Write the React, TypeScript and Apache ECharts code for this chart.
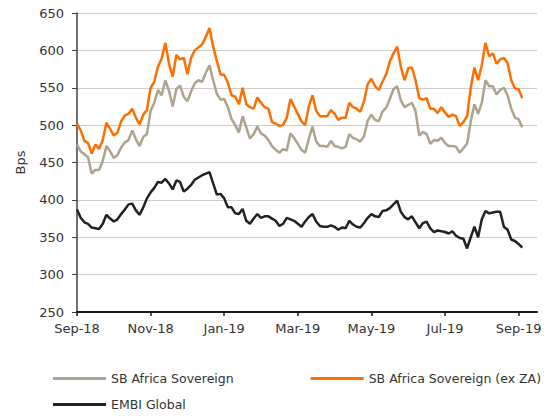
import React, { useEffect, useRef } from "react";
import * as echarts from "echarts";

const tickLabels = ["Sep-18", "Nov-18", "Jan-19", "Mar-19", "May-19", "Jul-19", "Sep-19"];
const POINTS_PER_TICK = 20;
const TOTAL_SLOTS = 126;

const sbAfrica = [
  474, 465, 461, 457, 435, 440, 440, 452, 472, 465, 456, 460, 470, 477, 480, 493, 481, 472, 484, 488,
  519, 530, 547, 540, 560, 546, 525, 548, 553, 538, 532, 545, 556, 560, 558, 570, 580, 560, 542, 534,
  535, 524, 508, 500, 490, 512, 497, 482, 488, 498, 489, 486, 480, 472, 467, 463, 468, 466, 489, 483,
  475, 467, 463, 482, 498, 478, 472, 472, 471, 479, 472, 471, 469, 471, 488, 483, 481, 478, 485, 506,
  514, 507, 505, 518, 523, 535, 548, 552, 533, 524, 527, 530, 519, 486, 491, 488, 475, 480, 479, 483,
  476, 472, 472, 471, 463, 469, 475, 505, 528, 515, 530, 560, 552, 552, 541, 547, 550, 540, 522, 510,
  508, 497,
];

const sbAfricaExZA = [
  502, 493, 479, 476, 462, 474, 468, 480, 503, 495, 486, 490, 505, 513, 515, 522, 510, 501, 514, 520,
  550, 558, 578, 589, 610, 582, 565, 594, 588, 590, 568, 590, 600, 604, 608, 618, 630, 605, 586, 568,
  567, 557, 540, 538, 528, 550, 528, 524, 522, 537, 530, 524, 522, 504, 502, 499, 500, 510, 535, 525,
  515, 505, 500, 525, 540, 519, 512, 512, 512, 520, 515, 507, 510, 510, 530, 524, 522, 518, 532, 555,
  562, 552, 547, 558, 568, 585, 596, 605, 578, 560, 576, 577, 560, 536, 534, 536, 522, 522, 516, 524,
  517, 511, 514, 512, 499, 504, 512, 550, 577, 560, 580, 610, 592, 596, 582, 588, 590, 583, 560, 549,
  548, 536,
];

const embiGlobal = [
  387, 376, 370, 368, 363, 362, 361, 368, 380, 375, 371, 374, 381, 387, 394, 395, 386, 380, 390, 402,
  410, 416, 424, 423, 428, 422, 414, 426, 424, 411, 415, 420, 427, 430, 433, 435, 437, 422, 407, 408,
  402, 390, 390, 382, 381, 388, 372, 368, 375, 381, 376, 378, 378, 375, 372, 365, 368, 376, 374, 372,
  368, 364, 371, 377, 381, 371, 365, 364, 364, 366, 364, 360, 363, 362, 372, 367, 364, 363, 369, 376,
  381, 378, 377, 385, 386, 389, 394, 399, 384, 377, 374, 378, 370, 362, 369, 371, 362, 357, 359, 358,
  357, 355, 358, 352, 349, 348, 335, 350, 364, 350, 374, 385, 382, 383, 384, 384, 364, 360, 347, 345,
  341, 336,
];

const seriesNames = ["SB Africa Sovereign", "SB Africa Sovereign (ex ZA)", "EMBI Global"];
const seriesColors = ["#ADA38E", "#FF6E00", "#222222"];

const FONT = "DejaVu Sans";

export default function App() {
  const ref = useRef<HTMLDivElement>(null);

  useEffect(() => {
    if (!ref.current) return;
    const chart = echarts.init(ref.current, undefined, { renderer: "svg" });
    const categories = Array.from({ length: TOTAL_SLOTS }, (_, i) => `p${i}`);
    const isTick = (index: number) => index % POINTS_PER_TICK === 0;
    const values = [sbAfrica, sbAfricaExZA, embiGlobal];

    chart.setOption({
      animation: false,
      backgroundColor: "#ffffff",
      textStyle: { fontFamily: FONT },
      grid: { left: 77, right: 14, top: 13, bottom: 107, containLabel: false },
      legend: [
        {
          data: [seriesNames[0], seriesNames[1]],
          left: 53,
          top: 372,
          padding: 0,
          icon: "rect",
          itemWidth: 53,
          itemHeight: 3,
          itemGap: 77,
          textStyle: { fontFamily: FONT, fontSize: 12.5, color: "#333333" },
        },
        {
          data: [seriesNames[2]],
          left: 53,
          top: 398,
          padding: 0,
          icon: "rect",
          itemWidth: 53,
          itemHeight: 3,
          textStyle: { fontFamily: FONT, fontSize: 12.5, color: "#333333" },
        },
      ],
      xAxis: {
        type: "category",
        data: categories,
        boundaryGap: false,
        axisLine: { show: true, lineStyle: { color: "#1a1a1a", width: 2 } },
        axisTick: {
          show: true,
          interval: (index: number) => isTick(index),
          length: 4,
          lineStyle: { color: "#1a1a1a", width: 1.5 },
        },
        axisLabel: {
          interval: (index: number) => isTick(index),
          formatter: (_v: string, index: number) =>
            isTick(index) ? tickLabels[index / POINTS_PER_TICK] ?? "" : "",
          margin: 10,
          fontFamily: FONT,
          fontSize: 13,
          color: "#333333",
        },
        splitLine: { show: false },
      },
      yAxis: {
        type: "value",
        min: 250,
        max: 650,
        interval: 50,
        name: "Bps",
        nameLocation: "middle",
        nameGap: 50,
        nameTextStyle: { fontFamily: FONT, fontSize: 13, color: "#333333" },
        axisLine: { show: true, lineStyle: { color: "#404040", width: 1.5 } },
        axisTick: { show: true, length: 5, lineStyle: { color: "#404040", width: 1 } },
        axisLabel: { margin: 13, fontFamily: FONT, fontSize: 13, color: "#333333" },
        splitLine: { show: true, lineStyle: { color: "#cccccc", width: 1 } },
      },
      series: seriesNames.map((name, k) => ({
        name,
        type: "line",
        data: values[k],
        showSymbol: false,
        symbol: "none",
        lineStyle: { color: seriesColors[k], width: 2.5 },
        itemStyle: { color: seriesColors[k] },
        z: 2 + k,
      })),
    });

    return () => chart.dispose();
  }, []);

  return (
    <div
      ref={ref}
      style={{ position: "fixed", left: 0, top: 0, width: 551, height: 419 }}
    />
  );
}
